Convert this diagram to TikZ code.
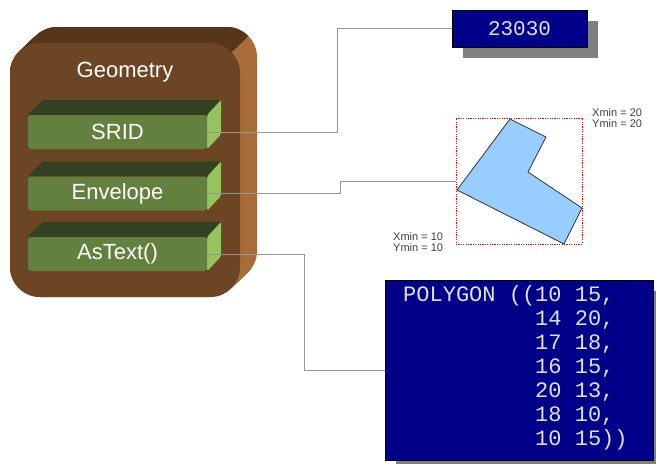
\documentclass[tikz,border=0pt]{standalone}
\usepackage{fontspec}
\setmainfont{Liberation Sans}
\setmonofont{Liberation Mono}
\usetikzlibrary{calc}
\pgfdeclarelayer{base}
\pgfdeclarelayer{back}
\pgfsetlayers{base,back,main}

\definecolor{brownfront}{RGB}{107,69,36}
\definecolor{browntop}{RGB}{86,54,26}
\definecolor{brownside}{RGB}{168,108,58}
\definecolor{greenfront}{RGB}{100,128,62}
\definecolor{greentop}{RGB}{52,64,34}
\definecolor{greenside}{RGB}{150,194,96}
\definecolor{navybox}{RGB}{0,0,136}
\definecolor{shadowgray}{RGB}{128,128,128}
\definecolor{wirecolor}{RGB}{150,150,150}
\definecolor{polyfill}{RGB}{153,204,255}
\definecolor{monotext}{RGB}{224,224,232}
\definecolor{labeltext}{RGB}{64,64,64}

\begin{document}
\begin{tikzpicture}[x=1pt,y=-1pt,
  method/.style={fill=greenfront, rounded corners=3pt, minimum width=179pt,
    minimum height=34pt, inner sep=0pt, text=white,
    font=\fontsize{22}{24}\selectfont},
  methodtop/.style={fill=greentop, rounded corners=2pt},
  methodside/.style={fill=greenside, rounded corners=2pt},
  wire/.style={draw=wirecolor, line width=1pt},
  valuebox/.style={fill=navybox, draw=black, line width=0.8pt, inner sep=0pt,
    text=monotext},
  boxshadow/.style={fill=shadowgray},
  bound/.style={draw=red, dash pattern=on 1.2pt off 1.2pt, line width=1pt},
  coordlabel/.style={text=labeltext, font=\fontsize{11}{11}\selectfont,
    align=left, inner sep=0pt},
]
\begin{pgfonlayer}{base}
  \fill[white] (0,0) rectangle (656,464);
\end{pgfonlayer}
\useasboundingbox (0,0) rectangle (656,464);

% ---- Geometry object: extruded brown block ----
\begin{pgfonlayer}{base}
  % side wall (swept outline)
  \foreach \i in {0,...,25}
    \fill[brownside, rounded corners=30pt, shift={(\i*0.68,-\i*0.64)}]
      (10,43) rectangle (240,297);
  % top wall: the part of the sweep above the corner diagonal
  \begin{scope}
    \clip (-24,292) -- (316,-28) -- (-30,-30) -- cycle;
    \foreach \i in {0,...,25}
      \fill[browntop, rounded corners=30pt, shift={(\i*0.68,-\i*0.64)}]
        (10,43) rectangle (240,297);
  \end{scope}
  % front face
  \fill[brownfront, rounded corners=30pt] (10,43) rectangle (240,297);
\end{pgfonlayer}

\node[text=white, font=\fontsize{22}{24}\selectfont] (geomtitle) at (125,72) {Geometry};

% ---- method bars ----
\node[method] (srid) at (117.5,132) {SRID};
\node[method] (envelope) at (117.5,193.5) {Envelope};
\node[method] (astext) at (117.5,254) {AsText()};

\begin{pgfonlayer}{back}
  \foreach \m in {srid,envelope,astext} {
    \fill[methodtop] (\m.north west) -- ++(15,-15)
      -- ($(\m.north east)+(14,-15)$) -- (\m.north east) -- cycle;
    \fill[methodside] (\m.north east) -- ++(14,-15)
      -- ($(\m.south east)+(14,-15)$) -- (\m.south east) -- cycle;
  }
\end{pgfonlayer}

% ---- SRID value ----
\node[valuebox, minimum width=135pt, minimum height=37pt,
  font=\ttfamily\fontsize{21}{24}\selectfont] (sridval) at (519.5,28.5) {23030};
\begin{pgfonlayer}{back}
  \fill[boxshadow] ($(sridval.north west)+(11,11)$) rectangle ($(sridval.south east)+(11,11)$);
\end{pgfonlayer}

% ---- envelope of the polygon ----
\begin{pgfonlayer}{back}
  \filldraw[fill=polyfill, draw=black!80, line width=0.8pt, line join=round]
    (457,190) -- (510,119) -- (546,137) -- (528,172) -- (582,208) -- (564,244) -- cycle;
\end{pgfonlayer}
\node[bound, minimum width=126pt, minimum height=126pt, inner sep=0pt] (envrect) at (519,181) {};
\node[coordlabel, anchor=north west] (maxlabel) at (592,108) {Xmin = 20\\Ymin = 20};
\node[coordlabel, anchor=north west] (minlabel) at (393,232) {Xmin = 10\\Ymin = 10};

% ---- well-known text ----
\node[valuebox, minimum width=268pt, minimum height=180pt, anchor=north west] (wkt) at (385,280) {};
\begin{pgfonlayer}{back}
  \fill[boxshadow] (396,291) rectangle (656,464);
\end{pgfonlayer}
\node[anchor=north west, inner sep=0pt, align=left, text=monotext,
  font=\ttfamily\fontsize{22}{24.1}\selectfont] (wkttext) at (403,285)
  {POLYGON ((10 15,\\
   \phantom{POLYGON ((}14 20,\\
   \phantom{POLYGON ((}17 18,\\
   \phantom{POLYGON ((}16 15,\\
   \phantom{POLYGON ((}20 13,\\
   \phantom{POLYGON ((}18 10,\\
   \phantom{POLYGON ((}10 15))};

% ---- connectors ----
\coordinate (bendA) at (337,0);
\coordinate (bendB) at (340,0);
\coordinate (bendC) at (304,0);
\draw[wire] (srid.east) -| (bendA |- sridval.west) -- (sridval.west);
\draw[wire] (envelope.east) -| (bendB |- envrect.west) -- (envrect.west);
\draw[wire] (astext.east) -| (bendC |- wkt.west) -- (wkt.west);
\end{tikzpicture}
\end{document}
